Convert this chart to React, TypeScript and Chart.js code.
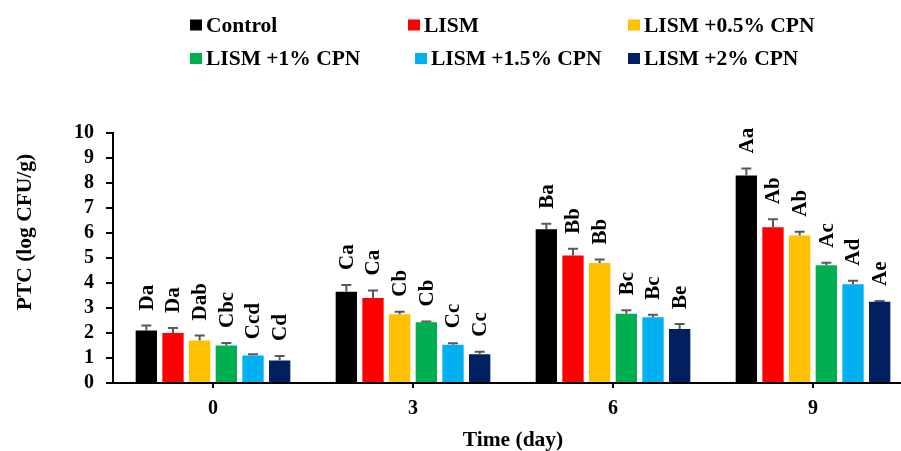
import React, { useEffect, useRef } from "react";
import { Chart, registerables } from "chart.js";

Chart.register(...registerables);

const categories = ["0", "3", "6", "9"];
const seriesNames = ["Control", "LISM", "LISM +0.5% CPN", "LISM +1% CPN", "LISM +1.5% CPN", "LISM +2% CPN"];
const seriesColors = ["#000000", "#FF0000", "#FFC000", "#00B050", "#00B0F0", "#002060"];

const controlValues = [2.1, 3.65, 6.15, 8.3];
const lismValues = [2.0, 3.4, 5.1, 6.23];
const cpn05Values = [1.7, 2.75, 4.8, 5.9];
const cpn1Values = [1.5, 2.43, 2.77, 4.71];
const cpn15Values = [1.1, 1.53, 2.63, 3.95];
const cpn2Values = [0.9, 1.15, 2.16, 3.25];

const controlErr = [0.2, 0.27, 0.22, 0.28];
const lismErr = [0.2, 0.3, 0.27, 0.32];
const cpn05Err = [0.2, 0.1, 0.14, 0.15];
const cpn1Err = [0.1, 0.03, 0.14, 0.1];
const cpn15Err = [0.05, 0.06, 0.1, 0.14];
const cpn2Err = [0.18, 0.1, 0.2, 0.03];

const controlLetters = ["Da", "Ca", "Ba", "Aa"];
const lismLetters = ["Da", "Ca", "Bb", "Ab"];
const cpn05Letters = ["Dab", "Cb", "Bb", "Ab"];
const cpn1Letters = ["Cbc", "Cb", "Bc", "Ac"];
const cpn15Letters = ["Ccd", "Cc", "Bc", "Ad"];
const cpn2Letters = ["Cd", "Cc", "Be", "Ae"];

const yMin = 0;
const yMax = 10;
const yStep = 1;
const yTitle = "PTC (log CFU/g)";
const xTitle = "Time (day)";

const allValues = [controlValues, lismValues, cpn05Values, cpn1Values, cpn15Values, cpn2Values];
const allErr = [controlErr, lismErr, cpn05Err, cpn1Err, cpn15Err, cpn2Err];
const allLetters = [controlLetters, lismLetters, cpn05Letters, cpn1Letters, cpn15Letters, cpn2Letters];

const FONT = "'Liberation Serif', 'Times New Roman', serif";

const overlayPlugin = {
  id: "overlay",
  afterDatasetsDraw(chart: any) {
    const ctx = chart.ctx;
    const yScale = chart.scales.y;
    ctx.save();
    chart.data.datasets.forEach((ds: any, di: number) => {
      const meta = chart.getDatasetMeta(di);
      meta.data.forEach((bar: any, i: number) => {
        const v = ds.data[i];
        const e = allErr[di][i];
        const yTop = yScale.getPixelForValue(v);
        const yErr = yScale.getPixelForValue(v + e);
        ctx.strokeStyle = "#595959";
        ctx.lineWidth = 2;
        ctx.beginPath();
        ctx.moveTo(bar.x, yTop);
        ctx.lineTo(bar.x, yErr);
        ctx.moveTo(bar.x - 5, yErr);
        ctx.lineTo(bar.x + 5, yErr);
        ctx.stroke();
        ctx.save();
        ctx.translate(bar.x, yErr - 15);
        ctx.rotate(-Math.PI / 2);
        ctx.fillStyle = "#000";
        ctx.font = `bold 21px ${FONT}`;
        ctx.textAlign = "left";
        ctx.textBaseline = "middle";
        ctx.fillText(allLetters[di][i], 0, 1);
        ctx.restore();
      });
    });
    ctx.restore();
  },
  afterDraw(chart: any) {
    const ctx = chart.ctx;
    ctx.save();
    ctx.fillStyle = "#000";
    ctx.font = `bold 21.5px ${FONT}`;
    ctx.textAlign = "center";
    ctx.textBaseline = "middle";
    const area = chart.chartArea;
    ctx.fillText(xTitle, (area.left + area.right) / 2, 440);
    ctx.save();
    ctx.translate(25, 232);
    ctx.rotate(-Math.PI / 2);
    ctx.fillText(yTitle, 0, 0);
    ctx.restore();
    const legendX = [190, 408, 628, 190, 415, 628];
    const legendY = [25, 25, 25, 58.5, 58.5, 58.5];
    ctx.textAlign = "left";
    seriesNames.forEach((name, i) => {
      ctx.fillStyle = seriesColors[i];
      ctx.fillRect(legendX[i], legendY[i] - 5.5, 12, 11);
      ctx.fillStyle = "#000";
      ctx.fillText(name, legendX[i] + 16, legendY[i] + 1);
    });
    ctx.restore();
  },
};

export default function App() {
  const ref = useRef<HTMLCanvasElement | null>(null);
  useEffect(() => {
    if (!ref.current) return;
    const chart = new Chart(ref.current, {
      type: "bar",
      data: {
        labels: categories,
        datasets: seriesNames.map((name, i) => ({
          label: name,
          data: allValues[i],
          backgroundColor: seriesColors[i],
          borderWidth: 0,
          categoryPercentage: 0.8,
          barPercentage: 0.8,
        })),
      },
      options: {
        animation: false,
        responsive: false,
        devicePixelRatio: 1,
        layout: { padding: { top: 133, right: 7, left: 0, bottom: 0 } },
        plugins: {
          legend: { display: false },
          tooltip: { enabled: false },
        },
        scales: {
          x: {
            afterFit: (s: any) => {
              s.height = 68;
            },
            grid: {
              offset: false,
              drawOnChartArea: false,
              drawTicks: true,
              tickLength: 5,
              color: "#000",
              lineWidth: 2,
            },
            border: { display: true, color: "#000", width: 2 },
            ticks: {
              color: "#000",
              padding: 9,
              font: { family: FONT, size: 20, weight: "bold" },
            },
          },
          y: {
            min: yMin,
            max: yMax,
            afterFit: (s: any) => {
              s.width = 113;
            },
            grid: {
              drawOnChartArea: false,
              drawTicks: true,
              tickLength: 7,
              color: "#000",
              lineWidth: 2,
            },
            border: { display: true, color: "#000", width: 2 },
            ticks: {
              stepSize: yStep,
              autoSkip: false,
              color: "#000",
              padding: 12,
              font: { family: FONT, size: 20, weight: "bold" },
            },
          },
        },
      },
      plugins: [overlayPlugin],
    });
    return () => chart.destroy();
  }, []);
  return (
    <div style={{ position: "fixed", left: 0, top: 0, width: 901, height: 451, overflow: "hidden", background: "#fff" }}>
      <canvas ref={ref} width={920} height={451} style={{ width: 920, height: 451, display: "block" }} />
    </div>
  );
}
